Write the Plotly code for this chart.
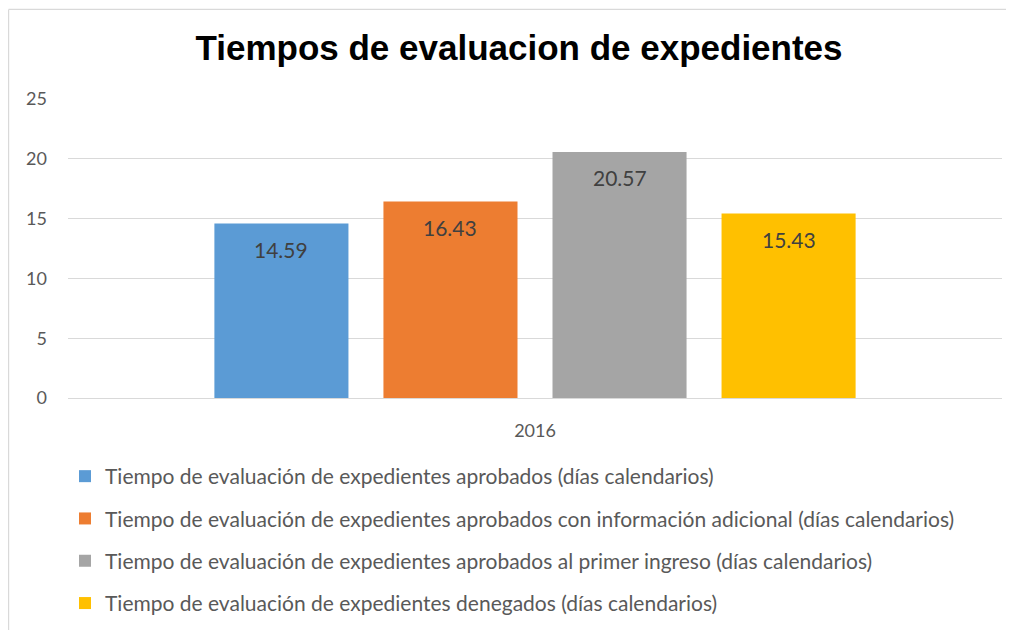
import plotly.graph_objects as go

categories = ["2016"]
series_names = [
    "Tiempo de evaluación de expedientes aprobados (días calendarios)",
    "Tiempo de evaluación de expedientes aprobados con información adicional (días calendarios)",
    "Tiempo de evaluación de expedientes aprobados al primer ingreso (días calendarios)",
    "Tiempo de evaluación de expedientes denegados (días calendarios)",
]
series_values = [14.59, 16.43, 20.57, 15.43]
colors = ["#5B9BD5", "#ED7D31", "#A5A5A5", "#FFC000"]
y_ticks = [0, 5, 10, 15, 20, 25]

# the page body adds an 8px margin, so the figure is drawn 8px smaller
OFF = 8
W, H = 1014 - OFF, 630 - OFF
ML, MR, MT, MB = 60, 12, 91, 232
plot_w = W - ML - MR
plot_h = H - MT - MB
bargap = 0.276
bargroupgap = 0.207

fig = go.Figure()
for i, (name, val, col) in enumerate(zip(series_names, series_values, colors)):
    fig.add_trace(go.Bar(
        x=categories, y=[val], name=name, marker=dict(color=col, line=dict(width=0)),
        legendgroup=f"g{i}",
    ))

# data labels placed just below the top of each bar
n = len(series_values)
slot = plot_w * (1 - bargap) / n
for i, val in enumerate(series_values):
    fig.add_annotation(
        x=0, y=val, text=f"{val:.2f}", showarrow=False,
        xshift=(i - (n - 1) / 2) * slot, yshift=-26,
        font=dict(family="Lato", size=21, color="#404040"),
    )

# chart-area border (only top and left visible)
def px_to_paper_x(px):
    return (px - ML) / plot_w

def px_to_paper_y(py):
    return (H - MB - py) / plot_h

border = dict(color="#D9D9D9", width=1.2)
fig.add_shape(type="line", xref="paper", yref="paper",
              x0=px_to_paper_x(0.6), x1=px_to_paper_x(W + 5),
              y0=px_to_paper_y(1.4), y1=px_to_paper_y(1.4), line=border)
fig.add_shape(type="line", xref="paper", yref="paper",
              x0=px_to_paper_x(0.6), x1=px_to_paper_x(0.6),
              y0=px_to_paper_y(1.4), y1=px_to_paper_y(H + 5), line=border)

fig.update_layout(
    width=W, height=H,
    margin=dict(l=ML, r=MR, t=MT, b=MB, autoexpand=False),
    paper_bgcolor="white", plot_bgcolor="white",
    barmode="group", bargap=bargap, bargroupgap=bargroupgap,
    title=dict(text="<b>Tiempos de evaluacion de expedientes</b>",
               font=dict(family="Liberation Sans", size=35, color="#000000"),
               x=(519 - OFF) / W, xanchor="center", y=1 - (48 - OFF) / H, yanchor="middle",
               xref="container", yref="container"),
    font=dict(family="Lato", color="#595959"),
    showlegend=True,
    legend=dict(orientation="v", x=px_to_paper_x(57), xanchor="left",
                y=px_to_paper_y(448), yanchor="top",
                font=dict(family="Lato", size=21, color="#595959"),
                tracegroupgap=12, itemwidth=30, bgcolor="rgba(0,0,0,0)"),
    xaxis=dict(type="category", range=[-0.5, 0.5], showgrid=False, showline=False,
               ticks="", ticklabelstandoff=20, automargin=False,
               tickfont=dict(family="Lato", size=18, color="#595959")),
    yaxis=dict(range=[0, 25], tickvals=y_ticks, showgrid=True, gridcolor="#D9D9D9",
               gridwidth=1, zeroline=True, zerolinecolor="#D9D9D9", zerolinewidth=1,
               showline=False, ticks="", ticklabelstandoff=20, automargin=False,
               tickfont=dict(family="Lato", size=18, color="#595959")),
)

fig.write_html("out.html")
